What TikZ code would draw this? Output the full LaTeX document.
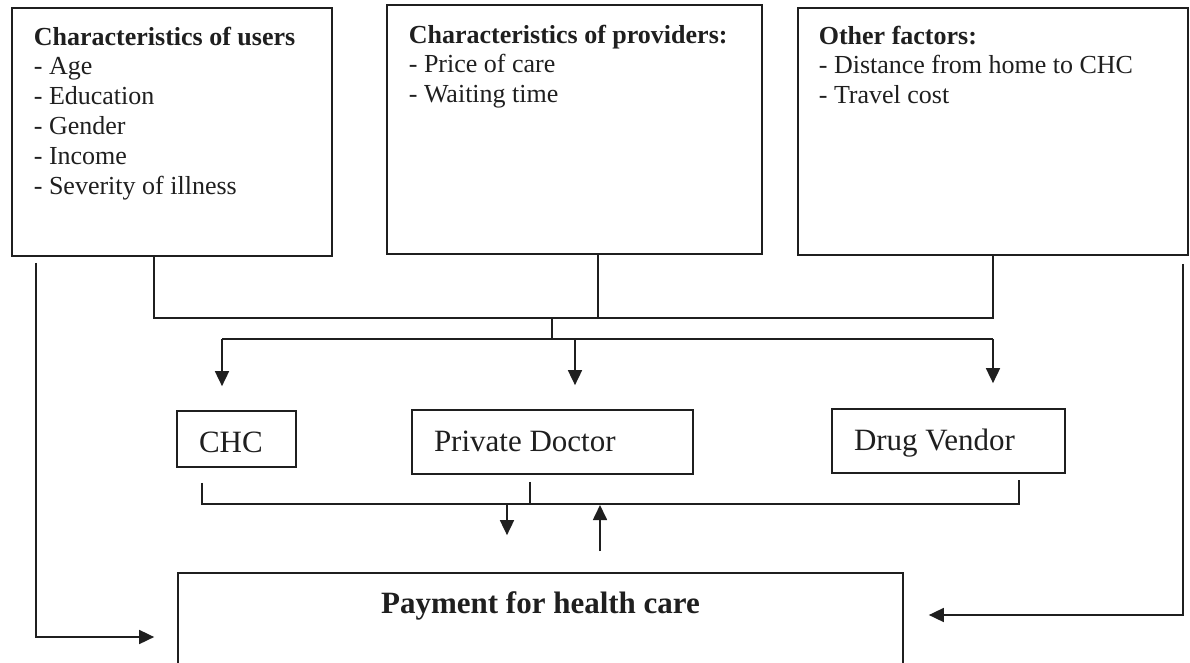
\documentclass[tikz,border=0pt]{standalone}
\usepackage{fontspec}
\setmainfont{Liberation Serif}
\usetikzlibrary{arrows.meta}
\begin{document}
\begin{tikzpicture}[x=1pt,y=-1pt, line width=1.7pt, color={black!88},
  box/.style={draw, line width=1.7pt, inner sep=0pt},
  arr/.style={-{Triangle[length=15pt,width=14pt]}},
  txt/.style={anchor=north west, inner sep=0pt, align=left, font=\fontsize{26}{29.8}\selectfont},
  mid/.style={draw, align=flush left, inner xsep=22pt, inner ysep=0pt, font=\fontsize{31}{36}\selectfont}]
\clip (0,0) rectangle (1190,663);
\fill[white] (0,0) rectangle (1190,663);

% top boxes
\node[box, minimum width=320pt, minimum height=248pt] (users) at (172,132) {};
\node[box, minimum width=375pt, minimum height=249pt] (prov) at (574.5,129.5) {};
\node[box, minimum width=390pt, minimum height=247pt] (other) at (993,131.5) {};

\node[txt] (usersT) at (33,26) {\textbf{Characteristics of users}\\- Age\\- Education\\- Gender\\- Income\\- Severity of illness};
\node[txt] (provT) at (408,24) {\textbf{Characteristics of providers:}\\- Price of care\\- Waiting time};
\node[txt] (otherT) at (818,25) {\textbf{Other factors:}\\- Distance from home to CHC\\- Travel cost};

% middle boxes
\node[mid, text width=75pt, minimum height=56pt, text height=26pt, text depth=0pt] (chc) at (236.5,439) {CHC};
\node[mid, text width=237pt, minimum height=64pt, text height=22pt, text depth=4pt] (doc) at (552.5,442) {Private Doctor};
\node[mid, text width=189pt, minimum height=64pt, text height=22pt, text depth=4pt] (vendor) at (948.5,441) {Drug Vendor};

% payment box
\node[draw, minimum width=725pt, minimum height=130pt, inner sep=0pt, text height=22pt, text depth=72pt,
      font=\fontsize{31}{36}\selectfont\bfseries] (pay) at (540.5,638) {Payment for health care};

% junction coordinates
\coordinate (jL) at (154,318);
\coordinate (jP) at (598,318);
\coordinate (jR) at (993,318);
\coordinate (jM) at (552,318);
\coordinate (jD) at (552,339);
\coordinate (bL) at (222,339);
\coordinate (bC) at (575,339);
\coordinate (bR) at (993,339);
\coordinate (cL) at (202,504);
\coordinate (cD) at (530,504);
\coordinate (cR) at (1019,504);
\coordinate (dn) at (507,504);
\coordinate (up) at (600,504);
\coordinate (lc) at (36,637);
\coordinate (rc) at (1183,615);

% upper bus
\draw (users.south -| jL) -- (jL) -- (jR) -- (other.south -| jR);
\draw (prov.south -| jP) -- (jP);
\draw (jM) -- (jD);
\draw (bL) -- (bR);
\draw[arr, shorten >=24pt] (bL) -- (chc.north -| bL);
\draw[arr, shorten >=24pt] (bC) -- (doc.north -| bC);
\draw[arr, shorten >=25pt] (bR) -- (vendor.north -| bR);

% lower bus
\draw[shorten <=15pt, shorten >=6pt] (chc.south -| cL) -- (cL) -- (cR) -- (vendor.south -| cR);
\draw[shorten <=7pt] (doc.south -| cD) -- (cD);
\draw[arr, shorten >=37pt] (dn) -- (pay.north -| dn);
\draw[arr, shorten <=21pt, shorten >=1pt] (pay.north -| up) -- (up);

% side connectors
\draw[arr, shorten <=6pt, shorten >=23pt] (users.south -| lc) -- (lc) -- (lc -| pay.west);
\draw[arr, shorten <=8pt, shorten >=25pt] (other.south -| rc) -- (rc) -- (rc -| pay.east);
\end{tikzpicture}
\end{document}
